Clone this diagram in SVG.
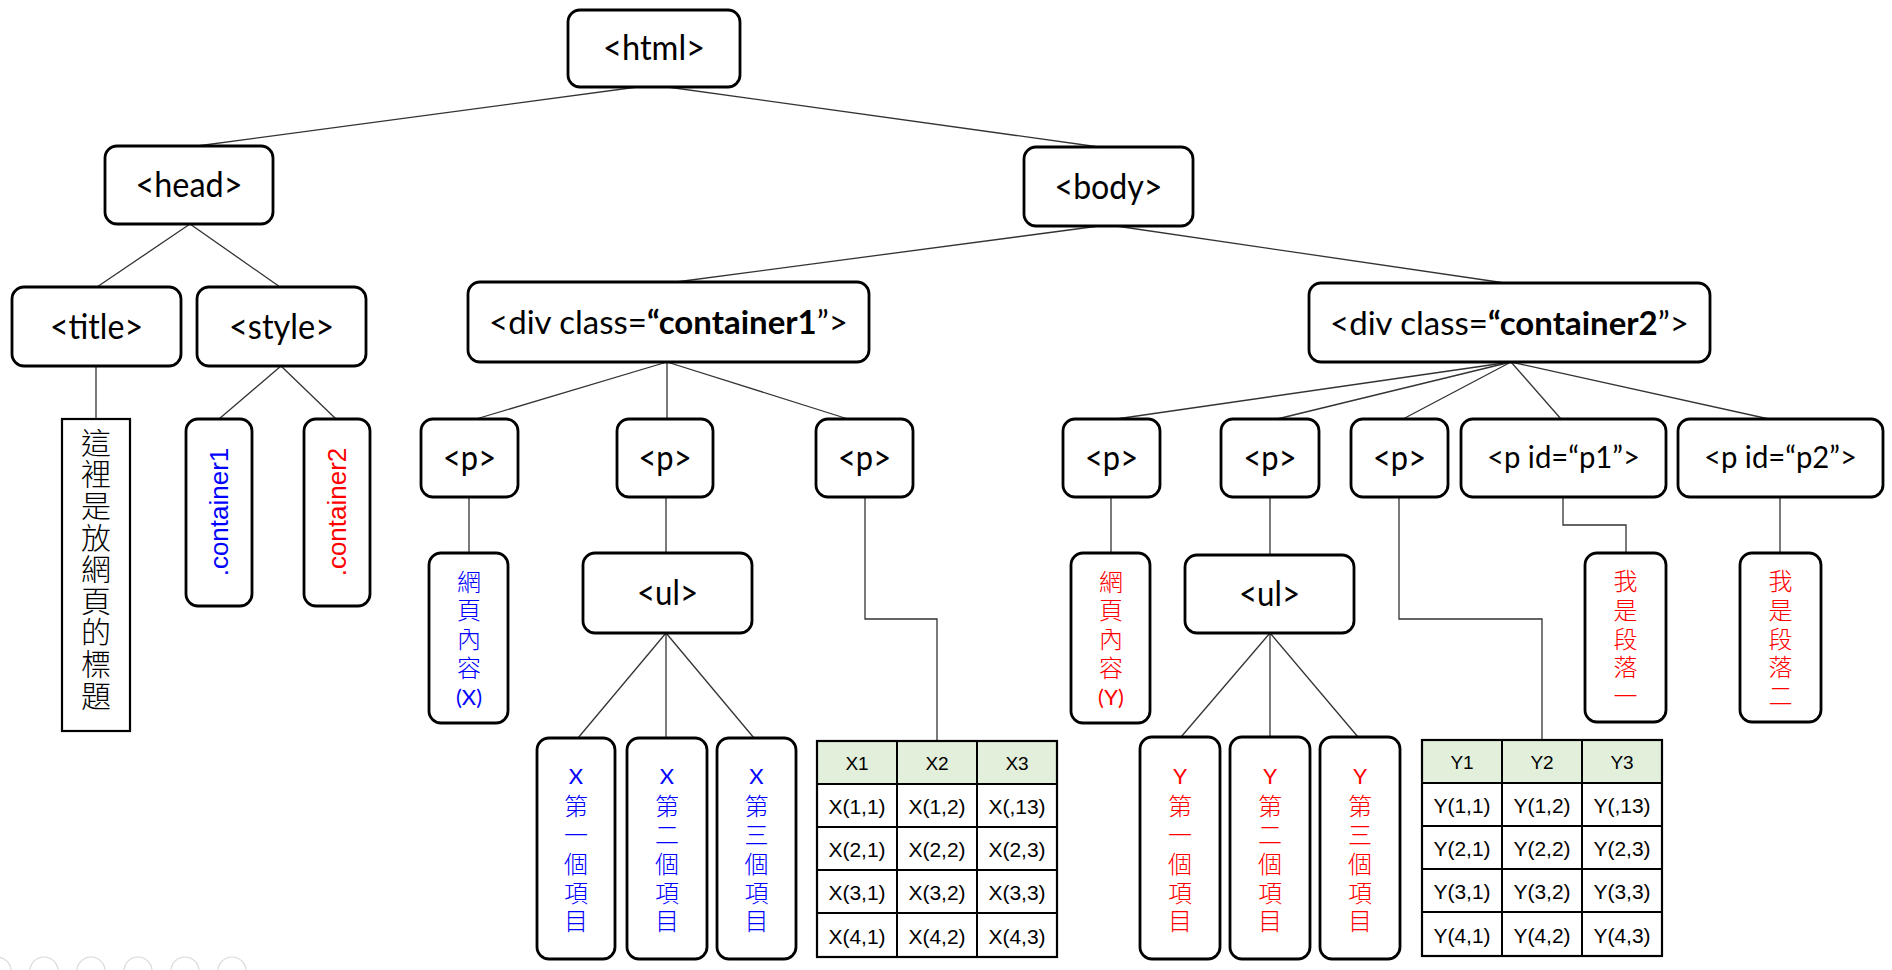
<svg xmlns="http://www.w3.org/2000/svg" width="1892" height="970" viewBox="0 0 1892 970">
<style>
.box{fill:#fff;stroke:#000;stroke-width:2.8}
.plain{fill:#fff;stroke:#000;stroke-width:2.2}
.lbl{font-family:Lato,'Noto Sans',sans-serif;font-size:35px;fill:#000;text-anchor:middle}
.lbd{font-family:Lato,'Noto Sans',sans-serif;font-size:33px;fill:#000;text-anchor:middle}
.lbs{font-family:Lato,'Noto Sans',sans-serif;font-size:31px;fill:#000;text-anchor:middle}
.vt{font-family:'Noto Sans CJK TC','Noto Sans CJK SC',sans-serif;font-size:24px;font-weight:300;writing-mode:vertical-rl;text-anchor:start;letter-spacing:4.8px}
.vtL{font-family:'Noto Sans CJK TC','Noto Sans CJK SC',sans-serif;font-size:30px;font-weight:300;writing-mode:vertical-rl;text-anchor:start;letter-spacing:1.6px;fill:#000}
.lat{font-family:Lato,'Noto Sans',sans-serif;font-size:22px;text-anchor:middle}
.rot{font-family:'Liberation Sans',Arial,sans-serif;font-size:26px;text-anchor:middle}
.blue{fill:#0000ff}
.red{fill:#ff0000}
.conn line,.conn polyline{stroke:#333;stroke-width:1.3;fill:none}
.tb{fill:none;stroke:#000;stroke-width:2.2}
.th{fill:#e2efda}
.tl{stroke:#000;stroke-width:2}
.hd{font-family:'Liberation Sans',Arial,sans-serif;font-size:19px;text-anchor:middle;fill:#000}
.td{font-family:'Liberation Sans',Arial,sans-serif;font-size:21px;text-anchor:middle;fill:#000}
.ui circle{fill:none;stroke:#d8d8d8;stroke-width:1.2}
</style>

<g id="connectors" class="conn">
  <line x1="645" y1="86" x2="197" y2="146"/>
  <line x1="660" y1="86" x2="1099" y2="147"/>
  <line x1="190" y1="224" x2="97" y2="287"/>
  <line x1="190" y1="224" x2="280" y2="287"/>
  <line x1="96" y1="366" x2="96" y2="419"/>
  <line x1="281" y1="366" x2="219" y2="419"/>
  <line x1="281" y1="366" x2="336" y2="419"/>
  <line x1="1099" y1="226" x2="676" y2="282"/>
  <line x1="1116" y1="226" x2="1505" y2="283"/>
  <line x1="667" y1="362" x2="476" y2="419"/>
  <line x1="667" y1="362" x2="667" y2="419"/>
  <line x1="667" y1="362" x2="848" y2="419"/>
  <line x1="469" y1="497" x2="469" y2="553"/>
  <line x1="666" y1="497" x2="666" y2="553"/>
  <line x1="666" y1="633" x2="578" y2="738"/>
  <line x1="666" y1="633" x2="666" y2="738"/>
  <line x1="666" y1="633" x2="754" y2="738"/>
  <polyline points="865,497 865,619 937,619 937,741"/>
  <line x1="1511" y1="362" x2="1116" y2="419"/>
  <line x1="1511" y1="362" x2="1277" y2="419"/>
  <line x1="1511" y1="362" x2="1403" y2="419"/>
  <line x1="1511" y1="362" x2="1561" y2="419"/>
  <line x1="1511" y1="362" x2="1769" y2="419"/>
  <line x1="1111" y1="497" x2="1111" y2="553"/>
  <line x1="1270" y1="497" x2="1270" y2="555"/>
  <line x1="1270" y1="633" x2="1181" y2="737"/>
  <line x1="1270" y1="633" x2="1270" y2="737"/>
  <line x1="1270" y1="633" x2="1358" y2="737"/>
  <polyline points="1399,497 1399,619 1542,619 1542,740"/>
  <polyline points="1563,497 1563,525 1626,525 1626,553"/>
  <line x1="1780" y1="497" x2="1780" y2="553"/>
</g>

<g id="n-html"><rect class="box" x="568" y="10" width="172" height="77" rx="12"/><text class="lbl" x="654" y="60" textLength="102" lengthAdjust="spacingAndGlyphs">&lt;html&gt;</text></g>
<g id="n-head"><rect class="box" x="105" y="146" width="168" height="78" rx="12"/><text class="lbl" x="189" y="197" textLength="107" lengthAdjust="spacingAndGlyphs">&lt;head&gt;</text></g>
<g id="n-body"><rect class="box" x="1024" y="147" width="169" height="79" rx="12"/><text class="lbl" x="1108.5" y="198.5" textLength="108" lengthAdjust="spacingAndGlyphs">&lt;body&gt;</text></g>
<g id="n-title"><rect class="box" x="12" y="287" width="169" height="79" rx="12"/><text class="lbl" x="96.5" y="338.5" textLength="93" lengthAdjust="spacingAndGlyphs">&lt;title&gt;</text></g>
<g id="n-style"><rect class="box" x="197" y="287" width="169" height="79" rx="12"/><text class="lbl" x="281.5" y="338.5" textLength="105" lengthAdjust="spacingAndGlyphs">&lt;style&gt;</text></g>
<g id="n-div1"><rect class="box" x="468" y="282" width="401" height="80" rx="12"/><text class="lbd" x="668.5" y="334">&lt;div class=<tspan font-weight="bold">“container1</tspan>”&gt;</text></g>
<g id="n-div2"><rect class="box" x="1309" y="283" width="401" height="79" rx="12"/><text class="lbd" x="1509.5" y="334.5">&lt;div class=<tspan font-weight="bold">“container2</tspan>”&gt;</text></g>

<g id="n-titletext"><rect class="plain" x="62" y="419" width="68" height="312"/>
<text class="vtL" x="96" y="427.5">這裡是放網頁的標題</text></g>
<g id="n-c1"><rect class="box" x="186" y="419" width="66" height="187" rx="12"/><text class="rot blue" transform="translate(219,512) rotate(-90)" x="0" y="9">.container1</text></g>
<g id="n-c2"><rect class="box" x="304" y="419" width="66" height="187" rx="12"/><text class="rot red" transform="translate(337,512) rotate(-90)" x="0" y="9">.container2</text></g>

<g id="n-p1"><rect class="box" x="421" y="419" width="97" height="78" rx="12"/><text class="lbl" x="469.5" y="470" textLength="53" lengthAdjust="spacingAndGlyphs">&lt;p&gt;</text></g>
<g id="n-p2"><rect class="box" x="617" y="419" width="96" height="78" rx="12"/><text class="lbl" x="665" y="470" textLength="53" lengthAdjust="spacingAndGlyphs">&lt;p&gt;</text></g>
<g id="n-p3"><rect class="box" x="816" y="419" width="97" height="78" rx="12"/><text class="lbl" x="864.5" y="470" textLength="53" lengthAdjust="spacingAndGlyphs">&lt;p&gt;</text></g>
<g id="n-p4"><rect class="box" x="1063" y="419" width="97" height="78" rx="12"/><text class="lbl" x="1111.5" y="470" textLength="53" lengthAdjust="spacingAndGlyphs">&lt;p&gt;</text></g>
<g id="n-p5"><rect class="box" x="1221" y="419" width="98" height="78" rx="12"/><text class="lbl" x="1270" y="470" textLength="53" lengthAdjust="spacingAndGlyphs">&lt;p&gt;</text></g>
<g id="n-p6"><rect class="box" x="1351" y="419" width="97" height="78" rx="12"/><text class="lbl" x="1399.5" y="470" textLength="53" lengthAdjust="spacingAndGlyphs">&lt;p&gt;</text></g>
<g id="n-pid1"><rect class="box" x="1461" y="419" width="205" height="78" rx="12"/><text class="lbs" x="1563.5" y="468" textLength="153" lengthAdjust="spacingAndGlyphs">&lt;p id=“p1”&gt;</text></g>
<g id="n-pid2"><rect class="box" x="1678" y="419" width="205" height="78" rx="12"/><text class="lbs" x="1780.5" y="468" textLength="153" lengthAdjust="spacingAndGlyphs">&lt;p id=“p2”&gt;</text></g>

<g id="n-contentX"><rect class="box" x="429" y="553" width="79" height="170" rx="12"/>
<text class="vt blue" x="469" y="569.7" style="letter-spacing:4.6px">網頁內容</text><text class="lat blue" x="469" y="705">(X)</text></g>
<g id="n-ulL"><rect class="box" x="583" y="553" width="169" height="80" rx="12"/><text class="lbl" x="667.5" y="605" textLength="61" lengthAdjust="spacingAndGlyphs">&lt;ul&gt;</text></g>

<g id="n-x1"><rect class="box" x="537" y="738" width="78" height="221" rx="12"/><text class="lat blue" x="576" y="784">X</text><text class="vt blue" x="576" y="794">第一個項目</text></g>
<g id="n-x2"><rect class="box" x="627" y="738" width="80" height="221" rx="12"/><text class="lat blue" x="667" y="784">X</text><text class="vt blue" x="667" y="794">第二個項目</text></g>
<g id="n-x3"><rect class="box" x="717" y="738" width="79" height="221" rx="12"/><text class="lat blue" x="756.5" y="784">X</text><text class="vt blue" x="756.5" y="794">第三個項目</text></g>

<g id="n-tableX">
  <rect class="th" x="817" y="741" width="240" height="43"/>
  <rect class="tb" x="817" y="741" width="240" height="216"/>
  <line class="tl" x1="897" y1="741" x2="897" y2="957"/><line class="tl" x1="977" y1="741" x2="977" y2="957"/>
  <line class="tl" x1="817" y1="784" x2="1057" y2="784"/><line class="tl" x1="817" y1="827" x2="1057" y2="827"/><line class="tl" x1="817" y1="870" x2="1057" y2="870"/><line class="tl" x1="817" y1="913" x2="1057" y2="913"/>
  <text class="hd" x="857" y="770">X1</text><text class="hd" x="937" y="770">X2</text><text class="hd" x="1017" y="770">X3</text>
  <text class="td" x="857" y="814">X(1,1)</text><text class="td" x="937" y="814">X(1,2)</text><text class="td" x="1017" y="814">X(,13)</text>
  <text class="td" x="857" y="857">X(2,1)</text><text class="td" x="937" y="857">X(2,2)</text><text class="td" x="1017" y="857">X(2,3)</text>
  <text class="td" x="857" y="900">X(3,1)</text><text class="td" x="937" y="900">X(3,2)</text><text class="td" x="1017" y="900">X(3,3)</text>
  <text class="td" x="857" y="943.5">X(4,1)</text><text class="td" x="937" y="943.5">X(4,2)</text><text class="td" x="1017" y="943.5">X(4,3)</text>
</g>

<g id="n-contentY"><rect class="box" x="1071" y="553" width="79" height="170" rx="12"/>
<text class="vt red" x="1111" y="569.7" style="letter-spacing:4.6px">網頁內容</text><text class="lat red" x="1111" y="705">(Y)</text></g>
<g id="n-ulR"><rect class="box" x="1185" y="555" width="169" height="78" rx="12"/><text class="lbl" x="1269.5" y="606" textLength="61" lengthAdjust="spacingAndGlyphs">&lt;ul&gt;</text></g>

<g id="n-y1"><rect class="box" x="1140" y="737" width="80" height="222" rx="12"/><text class="lat red" x="1180" y="784">Y</text><text class="vt red" x="1180" y="794">第一個項目</text></g>
<g id="n-y2"><rect class="box" x="1230" y="737" width="80" height="222" rx="12"/><text class="lat red" x="1270" y="784">Y</text><text class="vt red" x="1270" y="794">第二個項目</text></g>
<g id="n-y3"><rect class="box" x="1320" y="737" width="80" height="222" rx="12"/><text class="lat red" x="1360" y="784">Y</text><text class="vt red" x="1360" y="794">第三個項目</text></g>

<g id="n-tableY">
  <rect class="th" x="1422" y="740" width="240" height="43"/>
  <rect class="tb" x="1422" y="740" width="240" height="216"/>
  <line class="tl" x1="1502" y1="740" x2="1502" y2="956"/><line class="tl" x1="1582" y1="740" x2="1582" y2="956"/>
  <line class="tl" x1="1422" y1="783" x2="1662" y2="783"/><line class="tl" x1="1422" y1="826" x2="1662" y2="826"/><line class="tl" x1="1422" y1="869" x2="1662" y2="869"/><line class="tl" x1="1422" y1="912" x2="1662" y2="912"/>
  <text class="hd" x="1462" y="769">Y1</text><text class="hd" x="1542" y="769">Y2</text><text class="hd" x="1622" y="769">Y3</text>
  <text class="td" x="1462" y="813">Y(1,1)</text><text class="td" x="1542" y="813">Y(1,2)</text><text class="td" x="1622" y="813">Y(,13)</text>
  <text class="td" x="1462" y="856">Y(2,1)</text><text class="td" x="1542" y="856">Y(2,2)</text><text class="td" x="1622" y="856">Y(2,3)</text>
  <text class="td" x="1462" y="899">Y(3,1)</text><text class="td" x="1542" y="899">Y(3,2)</text><text class="td" x="1622" y="899">Y(3,3)</text>
  <text class="td" x="1462" y="942.5">Y(4,1)</text><text class="td" x="1542" y="942.5">Y(4,2)</text><text class="td" x="1622" y="942.5">Y(4,3)</text>
</g>

<g id="n-para1"><rect class="box" x="1585" y="553" width="81" height="169" rx="12"/><text class="vt red" x="1625.5" y="569" style="letter-spacing:4.75px">我是段落一</text></g>
<g id="n-para2"><rect class="box" x="1740" y="553" width="81" height="169" rx="12"/><text class="vt red" x="1780.5" y="569" style="letter-spacing:4.75px">我是段落二</text></g>

<g id="toolbar" class="ui">
  <circle cx="-3" cy="971" r="14"/><circle cx="44" cy="971" r="14"/><circle cx="91" cy="971" r="14"/><circle cx="138" cy="971" r="14"/><circle cx="185" cy="971" r="14"/><circle cx="232" cy="971" r="14"/>
</g>
</svg>
